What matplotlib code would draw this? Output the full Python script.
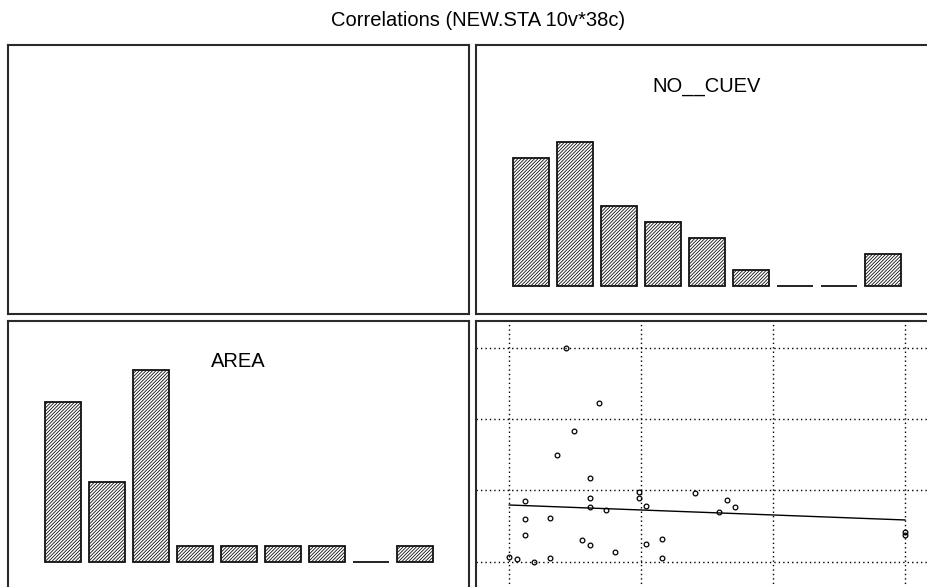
import numpy as np
import matplotlib
matplotlib.use("Agg")
import matplotlib.pyplot as plt

# histogram counts (9 bins each)
nocuev_counts = [8, 9, 5, 4, 3, 1, 0, 0, 2]
area_counts = [10, 5, 12, 1, 1, 1, 1, 0, 1]

# scatter NO__CUEV (x) vs AREA (y), in grid units
scatter_x = [0.43, 0.68, 0.49, 0.36, 0.61, 0.61, 0.61, 0.12, 0.12, 0.31, 0.12, 0.55, 0.61,
             0.73, 0.80, 0.98, 0.98, 1.04, 1.04, 1.16, 1.16, 1.41, 1.65, 1.71, 1.59,
             0.00, 0.06, 0.19, 0.31, 3.00, 3.00]
scatter_y = [3.00, 2.22, 1.83, 1.50, 1.17, 0.89, 0.76, 0.85, 0.60, 0.61, 0.37, 0.30, 0.24,
             0.72, 0.13, 0.98, 0.90, 0.78, 0.25, 0.32, 0.05, 0.96, 0.87, 0.77, 0.70,
             0.06, 0.04, 0.00, 0.05, 0.41, 0.37]
fit_intercept, fit_slope = 0.795, -0.07
grid_ticks = [0, 1, 2, 3]

title = "Correlations (NEW.STA 10v*38c)"
var_names = ["NO__CUEV", "AREA"]

plt.rcParams["font.family"] = ["Liberation Sans", "DejaVu Sans"]
plt.rcParams["hatch.linewidth"] = 0.6
plt.rcParams["hatch.color"] = "black"

FRAME = "#2a2a2a"


def _frame(ax):
    ax.set_xticks([]); ax.set_yticks([])
    for s in ax.spines.values():
        s.set_linewidth(1.5); s.set_color(FRAME)


def _hist(ax, counts, name):
    idx = np.arange(len(counts))
    ax.bar(idx, counts, width=0.81, facecolor="white", edgecolor="#111111",
           linewidth=1.3, hatch="/" * 10)
    ax.set_xlim(-1.257, 9.23); ax.set_ylim(-1.72, 15.05)
    ax.text(0.5, 0.828, name, transform=ax.transAxes, ha="center", va="baseline", fontsize=14.5)
    _frame(ax)


def main():
    fig = plt.figure(figsize=(9.27, 5.87), dpi=100)
    w, h = 461 / 927, 269 / 587
    xl, xr = 8 / 927, 476 / 927
    yt, yb = (587 - 314) / 587, (587 - 590) / 587

    ax_tl = fig.add_axes([xl, yt, w, h]); _frame(ax_tl)
    ax_tr = fig.add_axes([xr, yt, w, h]); _hist(ax_tr, nocuev_counts, var_names[0])
    ax_bl = fig.add_axes([xl, yb, w, h]); _hist(ax_bl, area_counts, var_names[1])

    ax = fig.add_axes([xr, yb, w, h])
    ax.set_xlim(-0.252, 3.243); ax.set_ylim(-0.397, 3.375)
    ax.set_xticks(grid_ticks); ax.set_yticks(grid_ticks)
    ax.tick_params(length=0, labelbottom=False, labelleft=False)
    ax.grid(True, color="black", linestyle=(0, (1, 2.2)), linewidth=1.0)
    ax.set_axisbelow(True)
    ax.plot(scatter_x, scatter_y, "o", ms=3.4, mfc="none", mec="black", mew=0.9)
    xs = np.array([min(scatter_x), max(scatter_x)])
    ax.plot(xs, fit_intercept + fit_slope * xs, color="black", lw=1.0)
    for s in ax.spines.values():
        s.set_linewidth(1.5); s.set_color(FRAME)

    fig.text(478 / 927, 1 - 26 / 587, title, ha="center", va="baseline", fontsize=14.5)
    fig.savefig("out.png", dpi=100)
    plt.close(fig)


if __name__ == "__main__":
    main()
